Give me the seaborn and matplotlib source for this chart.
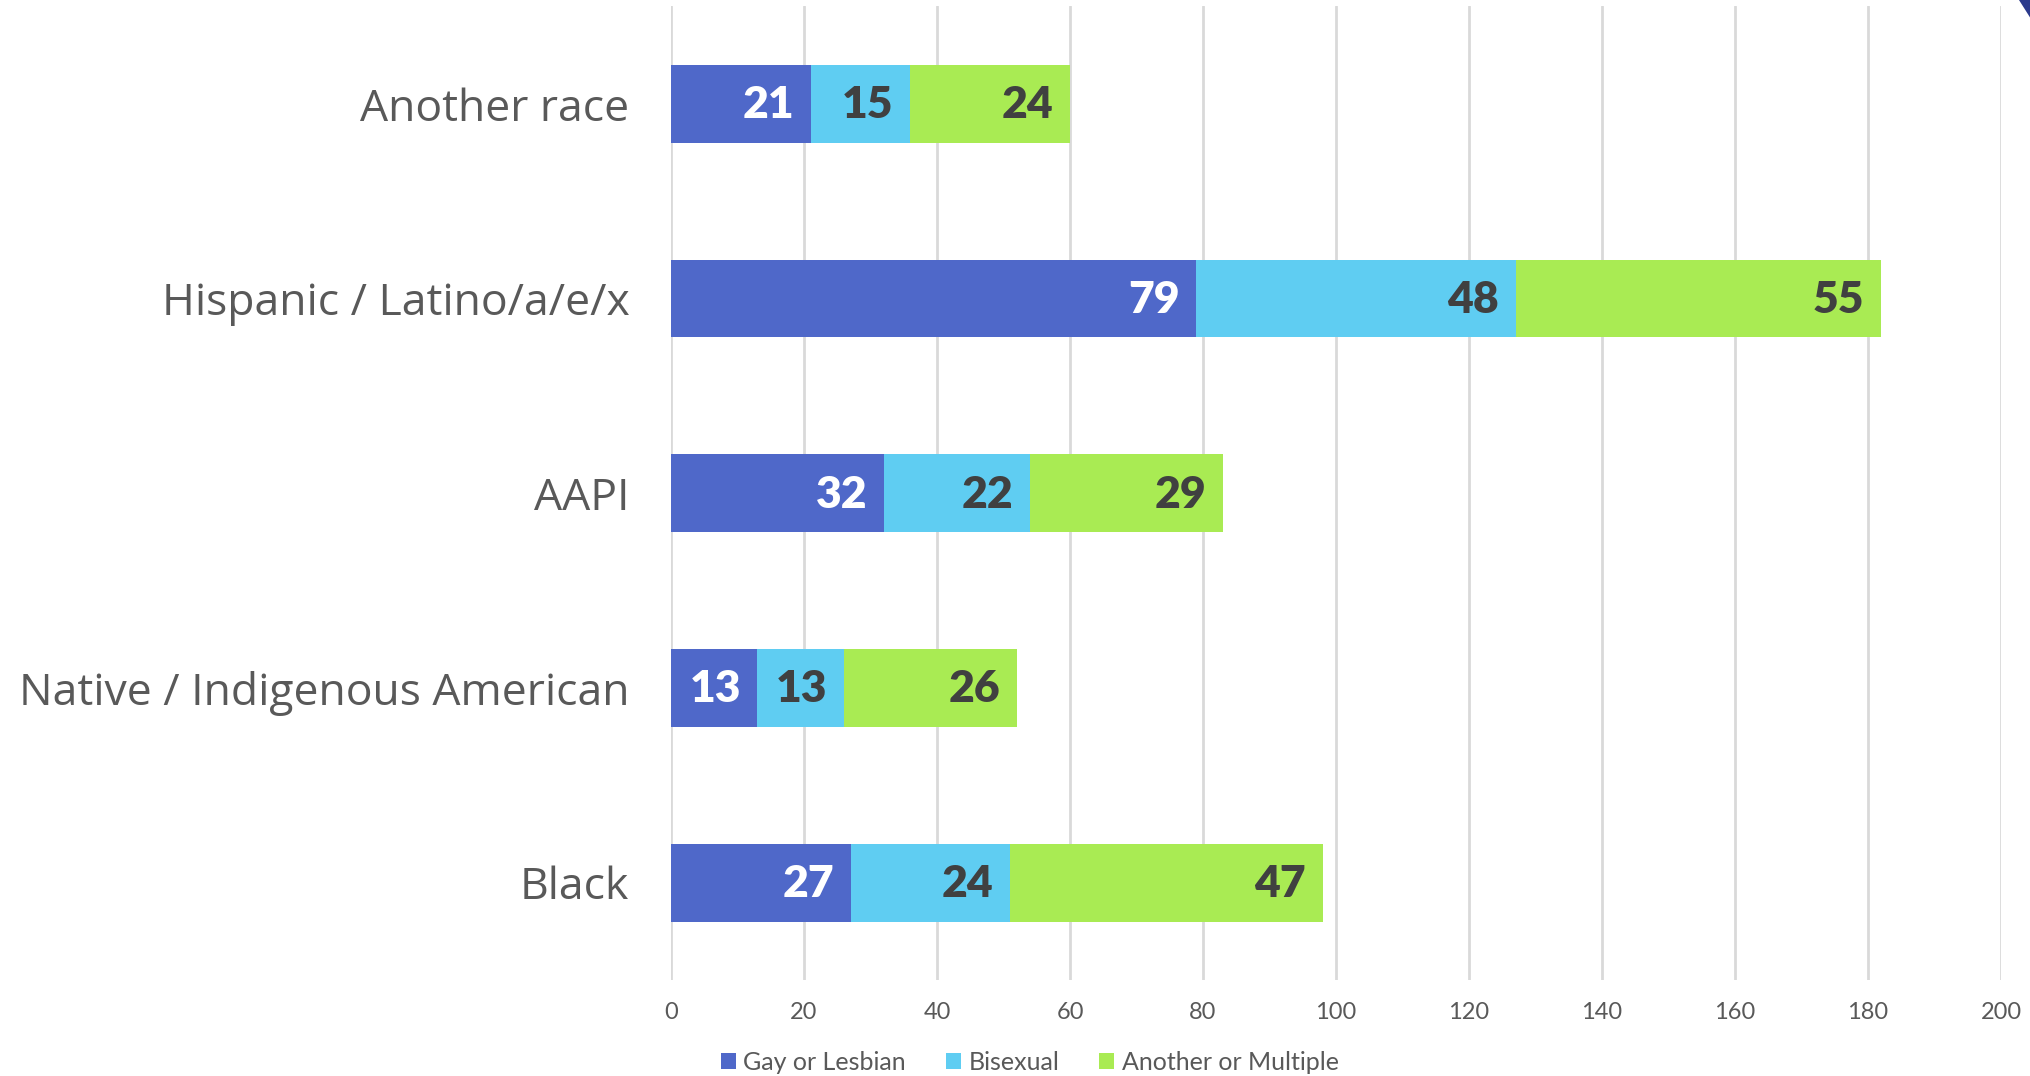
import numpy as np
import pandas as pd
import matplotlib
matplotlib.use("Agg")
import matplotlib.pyplot as plt
import seaborn as sns
from matplotlib.patches import Patch, Polygon

# --- DATA ---
CATEGORIES = ["Another race", "Hispanic / Latino/a/e/x", "AAPI",
              "Native / Indigenous American", "Black"]
GAY_LESBIAN = [21, 79, 32, 13, 27]
BISEXUAL = [15, 48, 22, 13, 24]
ANOTHER_MULTIPLE = [24, 55, 29, 26, 47]
SERIES = ["Gay or Lesbian", "Bisexual", "Another or Multiple"]
X_TICKS = list(range(0, 201, 20))
# ------------

COLORS = ["#4F68C9", "#5FCDF2", "#A9EB53"]
LABEL_COLORS = ["white", "#404040", "#404040"]
TEXT_GREY = "#595959"

sns.set_theme(style="white")
plt.rcParams["font.family"] = ["Lato", "DejaVu Sans"]

df = pd.DataFrame({"category": CATEGORIES,
                   "s0": GAY_LESBIAN, "s1": BISEXUAL, "s2": ANOTHER_MULTIPLE})
cum = df[["s0", "s1", "s2"]].cumsum(axis=1)
df["c0"], df["c1"], df["c2"] = cum["s0"], cum["s1"], cum["s2"]

fig = plt.figure(figsize=(20.31, 10.76), dpi=100)
ax = fig.add_axes([0.3304, 0.0892, 0.6548, 0.9048])

# stacked by overdrawing cumulative totals, outermost first
for col, color in zip(["c2", "c1", "c0"], COLORS[::-1]):
    sns.barplot(data=df, x=col, y="category", orient="h", color=color,
                width=0.4, saturation=1, linewidth=0, ax=ax, zorder=3)

# segment labels, right aligned inside each segment
for i in range(len(CATEGORIES)):
    for k in range(3):
        val = df.loc[i, f"s{k}"]
        end = df.loc[i, f"c{k}"]
        ax.annotate(str(val), (end, i), xytext=(-12, -1), textcoords="offset points",
                    ha="right", va="center", fontsize=32, fontweight="heavy",
                    color=LABEL_COLORS[k], zorder=5)

ax.set_xlim(0, 200)
ax.set_ylim(len(CATEGORIES) - 0.5, -0.5)
ax.set_xticks(X_TICKS)
ax.xaxis.grid(True, color="#D9D9D9", linewidth=2, zorder=0)
ax.set_axisbelow(True)
for s in ax.spines.values():
    s.set_visible(False)
ax.tick_params(axis="x", length=0, pad=16, labelsize=17, labelcolor=TEXT_GREY)
ax.tick_params(axis="y", length=0, pad=30, labelsize=32, labelcolor=TEXT_GREY)
for lbl in ax.get_yticklabels():
    lbl.set_family(["Open Sans", "DejaVu Sans"])
ax.set_xlabel("")
ax.set_ylabel("")

handles = [Patch(facecolor=c, edgecolor="none") for c in COLORS]
fig.legend(handles, SERIES, loc="center", bbox_to_anchor=(0.507, 0.013),
           ncol=3, frameon=False, fontsize=18, labelcolor=TEXT_GREY,
           handlelength=0.6, handleheight=0.6, handletextpad=0.3,
           columnspacing=1.6)

# slide decoration in the top right corner
fig.patches.append(Polygon([[0.9941, 1.0], [1.0, 1.0], [1.0, 0.982]],
                           closed=True, transform=fig.transFigure,
                           facecolor="#2B3A8C", edgecolor="none"))

fig.savefig("out.png", dpi=100)
